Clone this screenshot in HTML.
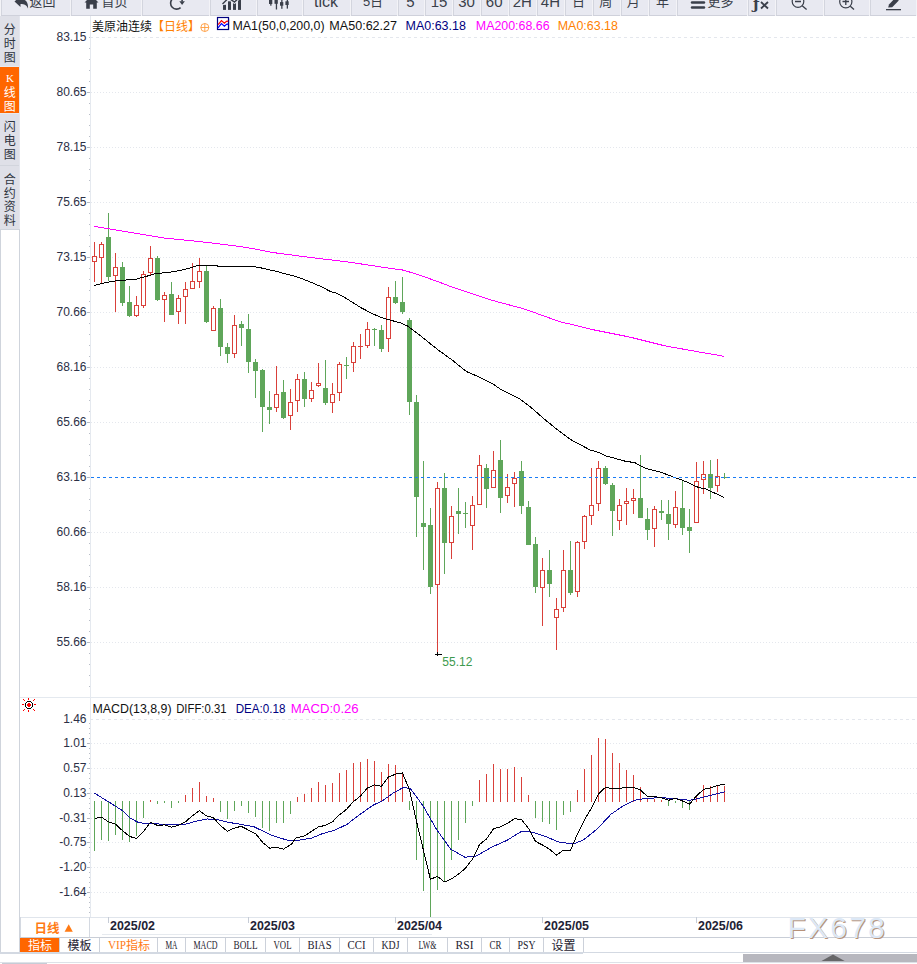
<!DOCTYPE html>
<html><head><meta charset="utf-8"><title>美原油连续 K线图</title>
<style>
html,body{margin:0;padding:0;background:#fff;width:917px;height:964px;overflow:hidden}
svg{position:absolute;left:0;top:0;display:block}
</style></head><body>
<svg width="917" height="964" viewBox="0 0 917 964">
<rect x="0" y="0" width="917" height="16" fill="#f3f3f7" />
<rect x="1" y="0" width="69" height="15" fill="#e8e9f1" />
<rect x="1" y="0" width="1" height="16" fill="#d3d5de" />
<rect x="1" y="15" width="69" height="1" fill="#cfd1db" />
<rect x="71" y="0" width="70" height="15" fill="#e8e9f1" />
<rect x="71" y="0" width="1" height="16" fill="#d3d5de" />
<rect x="71" y="15" width="70" height="1" fill="#cfd1db" />
<rect x="142" y="0" width="67" height="15" fill="#e8e9f1" />
<rect x="142" y="0" width="1" height="16" fill="#d3d5de" />
<rect x="142" y="15" width="67" height="1" fill="#cfd1db" />
<rect x="210" y="0" width="46" height="15" fill="#e8e9f1" />
<rect x="210" y="0" width="1" height="16" fill="#d3d5de" />
<rect x="210" y="15" width="46" height="1" fill="#cfd1db" />
<rect x="257" y="0" width="45" height="15" fill="#e8e9f1" />
<rect x="257" y="0" width="1" height="16" fill="#d3d5de" />
<rect x="257" y="15" width="45" height="1" fill="#cfd1db" />
<rect x="303" y="0" width="47" height="15" fill="#e8e9f1" />
<rect x="303" y="0" width="1" height="16" fill="#d3d5de" />
<rect x="303" y="15" width="47" height="1" fill="#cfd1db" />
<rect x="351" y="0" width="46" height="15" fill="#e8e9f1" />
<rect x="351" y="0" width="1" height="16" fill="#d3d5de" />
<rect x="351" y="15" width="46" height="1" fill="#cfd1db" />
<rect x="398" y="0" width="26" height="15" fill="#e8e9f1" />
<rect x="398" y="0" width="1" height="16" fill="#d3d5de" />
<rect x="398" y="15" width="26" height="1" fill="#cfd1db" />
<rect x="425" y="0" width="27" height="15" fill="#e8e9f1" />
<rect x="425" y="0" width="1" height="16" fill="#d3d5de" />
<rect x="425" y="15" width="27" height="1" fill="#cfd1db" />
<rect x="453" y="0" width="27" height="15" fill="#e8e9f1" />
<rect x="453" y="0" width="1" height="16" fill="#d3d5de" />
<rect x="453" y="15" width="27" height="1" fill="#cfd1db" />
<rect x="481" y="0" width="27" height="15" fill="#e8e9f1" />
<rect x="481" y="0" width="1" height="16" fill="#d3d5de" />
<rect x="481" y="15" width="27" height="1" fill="#cfd1db" />
<rect x="509" y="0" width="27" height="15" fill="#e8e9f1" />
<rect x="509" y="0" width="1" height="16" fill="#d3d5de" />
<rect x="509" y="15" width="27" height="1" fill="#cfd1db" />
<rect x="537" y="0" width="27" height="15" fill="#e8e9f1" />
<rect x="537" y="0" width="1" height="16" fill="#d3d5de" />
<rect x="537" y="15" width="27" height="1" fill="#cfd1db" />
<rect x="565" y="0" width="27" height="15" fill="#e8e9f1" />
<rect x="565" y="0" width="1" height="16" fill="#d3d5de" />
<rect x="565" y="15" width="27" height="1" fill="#cfd1db" />
<rect x="593" y="0" width="27" height="15" fill="#e8e9f1" />
<rect x="593" y="0" width="1" height="16" fill="#d3d5de" />
<rect x="593" y="15" width="27" height="1" fill="#cfd1db" />
<rect x="621" y="0" width="27" height="15" fill="#e8e9f1" />
<rect x="621" y="0" width="1" height="16" fill="#d3d5de" />
<rect x="621" y="15" width="27" height="1" fill="#cfd1db" />
<rect x="649" y="0" width="27" height="15" fill="#e8e9f1" />
<rect x="649" y="0" width="1" height="16" fill="#d3d5de" />
<rect x="649" y="15" width="27" height="1" fill="#cfd1db" />
<rect x="677" y="0" width="70" height="15" fill="#e8e9f1" />
<rect x="677" y="0" width="1" height="16" fill="#d3d5de" />
<rect x="677" y="15" width="70" height="1" fill="#cfd1db" />
<rect x="748" y="0" width="27" height="15" fill="#e8e9f1" />
<rect x="748" y="0" width="1" height="16" fill="#d3d5de" />
<rect x="748" y="15" width="27" height="1" fill="#cfd1db" />
<rect x="776" y="0" width="47" height="15" fill="#e8e9f1" />
<rect x="776" y="0" width="1" height="16" fill="#d3d5de" />
<rect x="776" y="15" width="47" height="1" fill="#cfd1db" />
<rect x="824" y="0" width="45" height="15" fill="#e8e9f1" />
<rect x="824" y="0" width="1" height="16" fill="#d3d5de" />
<rect x="824" y="15" width="45" height="1" fill="#cfd1db" />
<rect x="870" y="0" width="46" height="15" fill="#e8e9f1" />
<rect x="870" y="0" width="1" height="16" fill="#d3d5de" />
<rect x="870" y="15" width="46" height="1" fill="#cfd1db" />
<text x="42.5" y="6" font-size="13" fill="#3a3f4a" font-family="'Liberation Sans', 'Noto Sans CJK SC', 'WenQuanYi Zen Hei', sans-serif" text-anchor="middle" font-weight="normal" >返回</text>
<text x="114.5" y="6" font-size="13" fill="#3a3f4a" font-family="'Liberation Sans', 'Noto Sans CJK SC', 'WenQuanYi Zen Hei', sans-serif" text-anchor="middle" font-weight="normal" >首页</text>
<text x="326" y="7.2" font-size="16" fill="#3a3f4a" font-family="'Liberation Sans', Arial, sans-serif" text-anchor="middle" font-weight="normal" >tick</text>
<text x="373" y="6" font-size="13" fill="#3a3f4a" font-family="'Liberation Sans', 'Noto Sans CJK SC', 'WenQuanYi Zen Hei', sans-serif" text-anchor="middle" font-weight="normal" >5日</text>
<text x="410.5" y="7.0" font-size="15" fill="#3a3f4a" font-family="'Liberation Sans', 'Noto Sans CJK SC', 'WenQuanYi Zen Hei', sans-serif" text-anchor="middle" font-weight="normal" >5</text>
<text x="439" y="7.0" font-size="15" fill="#3a3f4a" font-family="'Liberation Sans', 'Noto Sans CJK SC', 'WenQuanYi Zen Hei', sans-serif" text-anchor="middle" font-weight="normal" >15</text>
<text x="466.5" y="7.0" font-size="15" fill="#3a3f4a" font-family="'Liberation Sans', 'Noto Sans CJK SC', 'WenQuanYi Zen Hei', sans-serif" text-anchor="middle" font-weight="normal" >30</text>
<text x="494.2" y="7.0" font-size="15" fill="#3a3f4a" font-family="'Liberation Sans', 'Noto Sans CJK SC', 'WenQuanYi Zen Hei', sans-serif" text-anchor="middle" font-weight="normal" >60</text>
<text x="522.3" y="7.0" font-size="15" fill="#3a3f4a" font-family="'Liberation Sans', 'Noto Sans CJK SC', 'WenQuanYi Zen Hei', sans-serif" text-anchor="middle" font-weight="normal" >2H</text>
<text x="550.4" y="7.0" font-size="15" fill="#3a3f4a" font-family="'Liberation Sans', 'Noto Sans CJK SC', 'WenQuanYi Zen Hei', sans-serif" text-anchor="middle" font-weight="normal" >4H</text>
<text x="578.5" y="6" font-size="13" fill="#3a3f4a" font-family="'Liberation Sans', 'Noto Sans CJK SC', 'WenQuanYi Zen Hei', sans-serif" text-anchor="middle" font-weight="normal" >日</text>
<text x="605.8" y="6" font-size="13" fill="#3a3f4a" font-family="'Liberation Sans', 'Noto Sans CJK SC', 'WenQuanYi Zen Hei', sans-serif" text-anchor="middle" font-weight="normal" >周</text>
<text x="633.2" y="6" font-size="13" fill="#3a3f4a" font-family="'Liberation Sans', 'Noto Sans CJK SC', 'WenQuanYi Zen Hei', sans-serif" text-anchor="middle" font-weight="normal" >月</text>
<text x="662.5" y="6" font-size="13" fill="#3a3f4a" font-family="'Liberation Sans', 'Noto Sans CJK SC', 'WenQuanYi Zen Hei', sans-serif" text-anchor="middle" font-weight="normal" >年</text>
<text x="720.5" y="6" font-size="13" fill="#3a3f4a" font-family="'Liberation Sans', 'Noto Sans CJK SC', 'WenQuanYi Zen Hei', sans-serif" text-anchor="middle" font-weight="normal" >更多</text>
<path d="M14.5,1.5 L20.5,-4 L20.5,-1 C25.5,-1 28.5,2 28,8.5 C26.5,5 24.5,4 20.5,4 L20.5,7 Z" fill="#3a3f4a"/>
<path d="M84.5,2.5 L91.5,-4.5 L98.5,2.5 L96.8,2.5 L96.8,8.8 L93.2,8.8 L93.2,4.6 L89.8,4.6 L89.8,8.8 L86.2,8.8 L86.2,2.5 Z" fill="#3a3f4a"/>
<path d="M180.8,-1.2 A6,6 0 1 0 180.6,7.6" stroke="#3a3f4a" stroke-width="1.6" fill="none"/>
<path d="M179.3,1.3 L184.9,1.3 L182.1,4.9 Z" fill="#3a3f4a"/>
<rect x="181.3" y="-3" width="1.6" height="4.5" fill="#3a3f4a" />
<rect x="223" y="4.8" width="3" height="5.1000000000000005" fill="#3a3f4a" />
<rect x="228" y="1.3" width="3" height="8.6" fill="#3a3f4a" />
<rect x="233" y="3.2" width="3" height="6.7" fill="#3a3f4a" />
<rect x="238" y="-1" width="3" height="10.9" fill="#3a3f4a" />
<path d="M222.5,4 L228.5,-2 L234.5,2 L241,-4" stroke="#e8e9f1" stroke-width="3.2" fill="none"/>
<path d="M222.5,4 L228.5,-2 L234.5,2 L241,-4" stroke="#3a3f4a" stroke-width="1.4" fill="none"/>
<rect x="270.2" y="-3" width="1.3" height="8.7" fill="#3a3f4a" />
<rect x="269" y="-3" width="3.3" height="7" fill="#3a3f4a" />
<rect x="275.8" y="-3" width="1.3" height="12.5" fill="#3a3f4a" />
<rect x="274.5" y="-3" width="3.3" height="6.8" fill="#3a3f4a" />
<rect x="281.2" y="-1" width="1.3" height="9.8" fill="#3a3f4a" />
<rect x="280" y="2.1" width="3.3" height="3.6" fill="#3a3f4a" />
<rect x="286.7" y="-1" width="1.3" height="9.6" fill="#3a3f4a" />
<rect x="285.4" y="1.3" width="3.3" height="3.7" fill="#3a3f4a" />
<line x1="692" y1="2.5" x2="704" y2="2.5" stroke="#3a3f4a" stroke-width="2.4" stroke-linecap="round"/>
<line x1="692" y1="7.5" x2="704" y2="7.5" stroke="#3a3f4a" stroke-width="2.4" stroke-linecap="round"/>
<text x="753" y="8.5" font-size="15" fill="#3a3f4a" font-family="'DejaVu Serif', serif" text-anchor="start" font-weight="bold" >ƒ</text>
<path d="M761,2 L768,8.5 M768,2 L761,8.5" stroke="#3a3f4a" stroke-width="1.8"/>
<circle cx="798" cy="1.5" r="5.8" stroke="#3a3f4a" stroke-width="1.2" fill="none"/>
<path d="M795,1.5 L801,1.5 M802.2,5.8 L806.6,9.6" stroke="#3a3f4a" stroke-width="1.3"/>
<circle cx="845.8" cy="1.8" r="6.1" stroke="#3a3f4a" stroke-width="1.2" fill="none"/>
<path d="M842.5,1.5 L849,1.5 M845.8,-2 L845.8,5 M850.3,6.2 L854,9.6" stroke="#3a3f4a" stroke-width="1.3"/>
<path d="M888.2,7.4 L889,4.4 L895.6,-2.4 L898.8,0.6 L892.2,7.2 Z" fill="#3a3f4a"/>
<rect x="886" y="9" width="15" height="1.3" fill="#3a3f4a" />
<rect x="0" y="16" width="20" height="214" fill="#dfe0e8" />
<rect x="0" y="67" width="19" height="46" fill="#ff6600" />
<rect x="0" y="66" width="20" height="1" fill="#e8eaf0" />
<rect x="0" y="113" width="20" height="1" fill="#e8eaf0" />
<rect x="0" y="165" width="20" height="1" fill="#d2d5dd" />
<rect x="19" y="16" width="1" height="214" fill="#e4e6ee" />
<rect x="0" y="230" width="1" height="722" fill="#cfd4dc" />
<rect x="19" y="230" width="1" height="722" fill="#cfd4dc" />
<rect x="0" y="229" width="20" height="1" fill="#cfd4dc" />
<text x="9.8" y="33.5" font-size="12" fill="#2e3440" font-family="'Liberation Sans', 'Noto Sans CJK SC', 'WenQuanYi Zen Hei', sans-serif" text-anchor="middle" font-weight="normal" >分</text>
<text x="9.8" y="47.5" font-size="12" fill="#2e3440" font-family="'Liberation Sans', 'Noto Sans CJK SC', 'WenQuanYi Zen Hei', sans-serif" text-anchor="middle" font-weight="normal" >时</text>
<text x="9.8" y="61.5" font-size="12" fill="#2e3440" font-family="'Liberation Sans', 'Noto Sans CJK SC', 'WenQuanYi Zen Hei', sans-serif" text-anchor="middle" font-weight="normal" >图</text>
<text x="10" y="82" font-size="11" fill="#ffffff" font-family="'Liberation Serif', serif" text-anchor="middle" font-weight="normal" >K</text>
<text x="9.8" y="96.5" font-size="12" fill="#ffffff" font-family="'Liberation Sans', 'Noto Sans CJK SC', 'WenQuanYi Zen Hei', sans-serif" text-anchor="middle" font-weight="normal" >线</text>
<text x="9.8" y="110.5" font-size="12" fill="#ffffff" font-family="'Liberation Sans', 'Noto Sans CJK SC', 'WenQuanYi Zen Hei', sans-serif" text-anchor="middle" font-weight="normal" >图</text>
<text x="9.8" y="131" font-size="12" fill="#2e3440" font-family="'Liberation Sans', 'Noto Sans CJK SC', 'WenQuanYi Zen Hei', sans-serif" text-anchor="middle" font-weight="normal" >闪</text>
<text x="9.8" y="145" font-size="12" fill="#2e3440" font-family="'Liberation Sans', 'Noto Sans CJK SC', 'WenQuanYi Zen Hei', sans-serif" text-anchor="middle" font-weight="normal" >电</text>
<text x="9.8" y="159" font-size="12" fill="#2e3440" font-family="'Liberation Sans', 'Noto Sans CJK SC', 'WenQuanYi Zen Hei', sans-serif" text-anchor="middle" font-weight="normal" >图</text>
<text x="9.8" y="184.0" font-size="12" fill="#2e3440" font-family="'Liberation Sans', 'Noto Sans CJK SC', 'WenQuanYi Zen Hei', sans-serif" text-anchor="middle" font-weight="normal" >合</text>
<text x="9.8" y="197.5" font-size="12" fill="#2e3440" font-family="'Liberation Sans', 'Noto Sans CJK SC', 'WenQuanYi Zen Hei', sans-serif" text-anchor="middle" font-weight="normal" >约</text>
<text x="9.8" y="211.0" font-size="12" fill="#2e3440" font-family="'Liberation Sans', 'Noto Sans CJK SC', 'WenQuanYi Zen Hei', sans-serif" text-anchor="middle" font-weight="normal" >资</text>
<text x="9.8" y="224.5" font-size="12" fill="#2e3440" font-family="'Liberation Sans', 'Noto Sans CJK SC', 'WenQuanYi Zen Hei', sans-serif" text-anchor="middle" font-weight="normal" >料</text>
<rect x="90" y="16" width="1" height="902" fill="#e5e9ef" />
<rect x="20" y="697" width="897" height="1" fill="#e4e9ef" />
<line x1="90" y1="37.5" x2="917" y2="37.5" stroke="#e4e7ed" stroke-width="1" stroke-dasharray="3 3" shape-rendering="crispEdges"/>
<text x="86.5" y="40.5" font-size="12" fill="#2b2f45" font-family="'Liberation Sans', Arial, sans-serif" text-anchor="end" font-weight="normal" >83.15</text>
<line x1="91" y1="92.5" x2="917" y2="92.5" stroke="#e4e7ed" stroke-width="1" stroke-dasharray="1 2" shape-rendering="crispEdges"/>
<rect x="87" y="92" width="3" height="1" fill="#b4b8c0" />
<text x="86.5" y="95.5" font-size="12" fill="#2b2f45" font-family="'Liberation Sans', Arial, sans-serif" text-anchor="end" font-weight="normal" >80.65</text>
<line x1="91" y1="147.5" x2="917" y2="147.5" stroke="#e4e7ed" stroke-width="1" stroke-dasharray="1 2" shape-rendering="crispEdges"/>
<rect x="87" y="147" width="3" height="1" fill="#b4b8c0" />
<text x="86.5" y="150.5" font-size="12" fill="#2b2f45" font-family="'Liberation Sans', Arial, sans-serif" text-anchor="end" font-weight="normal" >78.15</text>
<line x1="91" y1="202.5" x2="917" y2="202.5" stroke="#e4e7ed" stroke-width="1" stroke-dasharray="1 2" shape-rendering="crispEdges"/>
<rect x="87" y="202" width="3" height="1" fill="#b4b8c0" />
<text x="86.5" y="205.5" font-size="12" fill="#2b2f45" font-family="'Liberation Sans', Arial, sans-serif" text-anchor="end" font-weight="normal" >75.65</text>
<line x1="91" y1="257.5" x2="917" y2="257.5" stroke="#e4e7ed" stroke-width="1" stroke-dasharray="1 2" shape-rendering="crispEdges"/>
<rect x="87" y="257" width="3" height="1" fill="#b4b8c0" />
<text x="86.5" y="260.5" font-size="12" fill="#2b2f45" font-family="'Liberation Sans', Arial, sans-serif" text-anchor="end" font-weight="normal" >73.15</text>
<line x1="91" y1="312.5" x2="917" y2="312.5" stroke="#e4e7ed" stroke-width="1" stroke-dasharray="1 2" shape-rendering="crispEdges"/>
<rect x="87" y="312" width="3" height="1" fill="#b4b8c0" />
<text x="86.5" y="315.5" font-size="12" fill="#2b2f45" font-family="'Liberation Sans', Arial, sans-serif" text-anchor="end" font-weight="normal" >70.66</text>
<line x1="91" y1="367.5" x2="917" y2="367.5" stroke="#e4e7ed" stroke-width="1" stroke-dasharray="1 2" shape-rendering="crispEdges"/>
<rect x="87" y="367" width="3" height="1" fill="#b4b8c0" />
<text x="86.5" y="370.5" font-size="12" fill="#2b2f45" font-family="'Liberation Sans', Arial, sans-serif" text-anchor="end" font-weight="normal" >68.16</text>
<line x1="91" y1="422.5" x2="917" y2="422.5" stroke="#e4e7ed" stroke-width="1" stroke-dasharray="1 2" shape-rendering="crispEdges"/>
<rect x="87" y="422" width="3" height="1" fill="#b4b8c0" />
<text x="86.5" y="425.5" font-size="12" fill="#2b2f45" font-family="'Liberation Sans', Arial, sans-serif" text-anchor="end" font-weight="normal" >65.66</text>
<rect x="87" y="477" width="3" height="1" fill="#b4b8c0" />
<text x="86.5" y="480.5" font-size="12" fill="#2b2f45" font-family="'Liberation Sans', Arial, sans-serif" text-anchor="end" font-weight="normal" >63.16</text>
<line x1="91" y1="532.5" x2="917" y2="532.5" stroke="#e4e7ed" stroke-width="1" stroke-dasharray="1 2" shape-rendering="crispEdges"/>
<rect x="87" y="532" width="3" height="1" fill="#b4b8c0" />
<text x="86.5" y="535.5" font-size="12" fill="#2b2f45" font-family="'Liberation Sans', Arial, sans-serif" text-anchor="end" font-weight="normal" >60.66</text>
<line x1="91" y1="587.5" x2="917" y2="587.5" stroke="#e4e7ed" stroke-width="1" stroke-dasharray="1 2" shape-rendering="crispEdges"/>
<rect x="87" y="587" width="3" height="1" fill="#b4b8c0" />
<text x="86.5" y="590.5" font-size="12" fill="#2b2f45" font-family="'Liberation Sans', Arial, sans-serif" text-anchor="end" font-weight="normal" >58.16</text>
<line x1="91" y1="642.5" x2="917" y2="642.5" stroke="#e4e7ed" stroke-width="1" stroke-dasharray="1 2" shape-rendering="crispEdges"/>
<rect x="87" y="642" width="3" height="1" fill="#b4b8c0" />
<text x="86.5" y="645.5" font-size="12" fill="#2b2f45" font-family="'Liberation Sans', Arial, sans-serif" text-anchor="end" font-weight="normal" >55.66</text>
<rect x="89" y="37" width="1" height="1" fill="#b9bec8" />
<rect x="89" y="48" width="1" height="1" fill="#b9bec8" />
<rect x="89" y="59" width="1" height="1" fill="#b9bec8" />
<rect x="89" y="70" width="1" height="1" fill="#b9bec8" />
<rect x="89" y="81" width="1" height="1" fill="#b9bec8" />
<rect x="89" y="92" width="1" height="1" fill="#b9bec8" />
<rect x="89" y="103" width="1" height="1" fill="#b9bec8" />
<rect x="89" y="114" width="1" height="1" fill="#b9bec8" />
<rect x="89" y="125" width="1" height="1" fill="#b9bec8" />
<rect x="89" y="136" width="1" height="1" fill="#b9bec8" />
<rect x="89" y="147" width="1" height="1" fill="#b9bec8" />
<rect x="89" y="158" width="1" height="1" fill="#b9bec8" />
<rect x="89" y="169" width="1" height="1" fill="#b9bec8" />
<rect x="89" y="180" width="1" height="1" fill="#b9bec8" />
<rect x="89" y="191" width="1" height="1" fill="#b9bec8" />
<rect x="89" y="202" width="1" height="1" fill="#b9bec8" />
<rect x="89" y="213" width="1" height="1" fill="#b9bec8" />
<rect x="89" y="224" width="1" height="1" fill="#b9bec8" />
<rect x="89" y="235" width="1" height="1" fill="#b9bec8" />
<rect x="89" y="246" width="1" height="1" fill="#b9bec8" />
<rect x="89" y="257" width="1" height="1" fill="#b9bec8" />
<rect x="89" y="268" width="1" height="1" fill="#b9bec8" />
<rect x="89" y="279" width="1" height="1" fill="#b9bec8" />
<rect x="89" y="290" width="1" height="1" fill="#b9bec8" />
<rect x="89" y="301" width="1" height="1" fill="#b9bec8" />
<rect x="89" y="312" width="1" height="1" fill="#b9bec8" />
<rect x="89" y="323" width="1" height="1" fill="#b9bec8" />
<rect x="89" y="334" width="1" height="1" fill="#b9bec8" />
<rect x="89" y="345" width="1" height="1" fill="#b9bec8" />
<rect x="89" y="356" width="1" height="1" fill="#b9bec8" />
<rect x="89" y="367" width="1" height="1" fill="#b9bec8" />
<rect x="89" y="378" width="1" height="1" fill="#b9bec8" />
<rect x="89" y="389" width="1" height="1" fill="#b9bec8" />
<rect x="89" y="400" width="1" height="1" fill="#b9bec8" />
<rect x="89" y="411" width="1" height="1" fill="#b9bec8" />
<rect x="89" y="422" width="1" height="1" fill="#b9bec8" />
<rect x="89" y="433" width="1" height="1" fill="#b9bec8" />
<rect x="89" y="444" width="1" height="1" fill="#b9bec8" />
<rect x="89" y="455" width="1" height="1" fill="#b9bec8" />
<rect x="89" y="466" width="1" height="1" fill="#b9bec8" />
<rect x="89" y="477" width="1" height="1" fill="#b9bec8" />
<rect x="89" y="488" width="1" height="1" fill="#b9bec8" />
<rect x="89" y="499" width="1" height="1" fill="#b9bec8" />
<rect x="89" y="510" width="1" height="1" fill="#b9bec8" />
<rect x="89" y="521" width="1" height="1" fill="#b9bec8" />
<rect x="89" y="532" width="1" height="1" fill="#b9bec8" />
<rect x="89" y="543" width="1" height="1" fill="#b9bec8" />
<rect x="89" y="554" width="1" height="1" fill="#b9bec8" />
<rect x="89" y="565" width="1" height="1" fill="#b9bec8" />
<rect x="89" y="576" width="1" height="1" fill="#b9bec8" />
<rect x="89" y="587" width="1" height="1" fill="#b9bec8" />
<rect x="89" y="598" width="1" height="1" fill="#b9bec8" />
<rect x="89" y="609" width="1" height="1" fill="#b9bec8" />
<rect x="89" y="620" width="1" height="1" fill="#b9bec8" />
<rect x="89" y="631" width="1" height="1" fill="#b9bec8" />
<rect x="89" y="642" width="1" height="1" fill="#b9bec8" />
<rect x="89" y="653" width="1" height="1" fill="#b9bec8" />
<rect x="89" y="664" width="1" height="1" fill="#b9bec8" />
<rect x="89" y="675" width="1" height="1" fill="#b9bec8" />
<rect x="89" y="686" width="1" height="1" fill="#b9bec8" />
<text x="92" y="30.5" font-size="12" fill="#111111" font-family="'Liberation Sans', 'Noto Sans CJK SC', 'WenQuanYi Zen Hei', sans-serif" text-anchor="start" font-weight="normal" >美原油连续</text>
<text x="152" y="30.5" font-size="12" fill="#ff8000" font-family="'Liberation Sans', 'Noto Sans CJK SC', 'WenQuanYi Zen Hei', sans-serif" text-anchor="start" font-weight="normal" >【日线】</text>
<circle cx="204.8" cy="27.5" r="4" stroke="#ff9a3a" stroke-width="0.9" fill="none"/>
<path d="M200.8,27.5 L208.8,27.5 M204.8,23.5 L204.8,31.5" stroke="#ff9a3a" stroke-width="0.9"/>
<rect x="218.5" y="18.5" width="11" height="11" fill="#808080" opacity="0.5"/>
<rect x="217.5" y="17.5" width="11" height="12" fill="#ffffff" stroke="#000080" stroke-width="1.2"/>
<polyline points="218.2,24.6 221.4,20.6 224.4,23.3 226.5,21.4 228.2,21.2" stroke="#ff0000" stroke-width="1.2" fill="none"/>
<polyline points="218,27.9 221.4,23.6 224.4,26.3 226.5,24.4 228.2,24.1" stroke="#0000ff" stroke-width="1.2" fill="none"/>
<text x="232.5" y="30" font-size="12.5" fill="#111111" font-family="'Liberation Sans', Arial, sans-serif" text-anchor="start" font-weight="normal" textLength="92" lengthAdjust="spacingAndGlyphs">MA1(50,0,200,0)</text>
<text x="329.3" y="30" font-size="12.5" fill="#111111" font-family="'Liberation Sans', Arial, sans-serif" text-anchor="start" font-weight="normal" textLength="67.8" lengthAdjust="spacingAndGlyphs">MA50:62.27</text>
<text x="405.6" y="30" font-size="12.5" fill="#000080" font-family="'Liberation Sans', Arial, sans-serif" text-anchor="start" font-weight="normal" textLength="60.3" lengthAdjust="spacingAndGlyphs">MA0:63.18</text>
<text x="475.8" y="30" font-size="12.5" fill="#ff00ff" font-family="'Liberation Sans', Arial, sans-serif" text-anchor="start" font-weight="normal" textLength="73.8" lengthAdjust="spacingAndGlyphs">MA200:68.66</text>
<text x="557.7" y="30" font-size="12.5" fill="#ff8000" font-family="'Liberation Sans', Arial, sans-serif" text-anchor="start" font-weight="normal" textLength="60.3" lengthAdjust="spacingAndGlyphs">MA0:63.18</text>
<g shape-rendering="crispEdges">
<rect x="94" y="242" width="1" height="40" fill="#d9403a" />
<rect x="92.5" y="256.5" width="4" height="5" fill="#fff" stroke="#d9403a" stroke-width="1"/>
<rect x="101" y="242" width="1" height="42" fill="#d9403a" />
<rect x="99.5" y="244.5" width="4" height="13" fill="#fff" stroke="#d9403a" stroke-width="1"/>
<rect x="108" y="213" width="1" height="68" fill="#5fa65a" />
<rect x="106" y="237" width="5" height="40" fill="#5fa65a" />
<rect x="115" y="253" width="1" height="59" fill="#d9403a" />
<rect x="113.5" y="267.5" width="4" height="8" fill="#fff" stroke="#d9403a" stroke-width="1"/>
<rect x="122" y="262" width="1" height="44" fill="#5fa65a" />
<rect x="120" y="267" width="5" height="36" fill="#5fa65a" />
<rect x="129" y="286" width="1" height="31" fill="#5fa65a" />
<rect x="127" y="302" width="5" height="14" fill="#5fa65a" />
<rect x="136" y="296" width="1" height="21" fill="#d9403a" />
<rect x="134.5" y="305.5" width="4" height="10" fill="#fff" stroke="#d9403a" stroke-width="1"/>
<rect x="143" y="271" width="1" height="37" fill="#d9403a" />
<rect x="141.5" y="274.5" width="4" height="31" fill="#fff" stroke="#d9403a" stroke-width="1"/>
<rect x="150" y="246" width="1" height="29" fill="#d9403a" />
<rect x="148.5" y="258.5" width="4" height="14" fill="#fff" stroke="#d9403a" stroke-width="1"/>
<rect x="157" y="256" width="1" height="45" fill="#5fa65a" />
<rect x="155" y="258" width="5" height="42" fill="#5fa65a" />
<rect x="164" y="292" width="1" height="30" fill="#d9403a" />
<rect x="162.5" y="295.5" width="4" height="4" fill="#fff" stroke="#d9403a" stroke-width="1"/>
<rect x="171" y="282" width="1" height="33" fill="#5fa65a" />
<rect x="169" y="294" width="5" height="21" fill="#5fa65a" />
<rect x="178" y="295" width="1" height="29" fill="#d9403a" />
<rect x="176.5" y="298.5" width="4" height="13" fill="#fff" stroke="#d9403a" stroke-width="1"/>
<rect x="185" y="282" width="1" height="42" fill="#d9403a" />
<rect x="183.5" y="289.5" width="4" height="7" fill="#fff" stroke="#d9403a" stroke-width="1"/>
<rect x="192" y="263" width="1" height="26" fill="#d9403a" />
<rect x="190.5" y="281.5" width="4" height="7" fill="#fff" stroke="#d9403a" stroke-width="1"/>
<rect x="199" y="258" width="1" height="30" fill="#d9403a" />
<rect x="197.5" y="271.5" width="4" height="10" fill="#fff" stroke="#d9403a" stroke-width="1"/>
<rect x="206" y="266" width="1" height="57" fill="#5fa65a" />
<rect x="204" y="271" width="5" height="51" fill="#5fa65a" />
<rect x="213" y="306" width="1" height="25" fill="#d9403a" />
<rect x="211.5" y="308.5" width="4" height="22" fill="#fff" stroke="#d9403a" stroke-width="1"/>
<rect x="220" y="299" width="1" height="57" fill="#5fa65a" />
<rect x="218" y="308" width="5" height="39" fill="#5fa65a" />
<rect x="227" y="343" width="1" height="20" fill="#5fa65a" />
<rect x="225" y="347" width="5" height="7" fill="#5fa65a" />
<rect x="234" y="315" width="1" height="43" fill="#d9403a" />
<rect x="232.5" y="325.5" width="4" height="28" fill="#fff" stroke="#d9403a" stroke-width="1"/>
<rect x="241" y="321" width="1" height="25" fill="#5fa65a" />
<rect x="239" y="324" width="5" height="4" fill="#5fa65a" />
<rect x="248" y="314" width="1" height="59" fill="#5fa65a" />
<rect x="246" y="329" width="5" height="33" fill="#5fa65a" />
<rect x="255" y="359" width="1" height="39" fill="#5fa65a" />
<rect x="253" y="362" width="5" height="9" fill="#5fa65a" />
<rect x="262" y="369" width="1" height="63" fill="#5fa65a" />
<rect x="260" y="370" width="5" height="37" fill="#5fa65a" />
<rect x="269" y="391" width="1" height="33" fill="#5fa65a" />
<rect x="267" y="407" width="5" height="3" fill="#5fa65a" />
<rect x="276" y="366" width="1" height="46" fill="#d9403a" />
<rect x="274.5" y="394.5" width="4" height="13" fill="#fff" stroke="#d9403a" stroke-width="1"/>
<rect x="283" y="380" width="1" height="39" fill="#5fa65a" />
<rect x="281" y="392" width="5" height="26" fill="#5fa65a" />
<rect x="290" y="389" width="1" height="41" fill="#d9403a" />
<rect x="288.5" y="402.5" width="4" height="13" fill="#fff" stroke="#d9403a" stroke-width="1"/>
<rect x="297" y="374" width="1" height="38" fill="#d9403a" />
<rect x="295.5" y="379.5" width="4" height="21" fill="#fff" stroke="#d9403a" stroke-width="1"/>
<rect x="304" y="372" width="1" height="35" fill="#5fa65a" />
<rect x="302" y="379" width="5" height="20" fill="#5fa65a" />
<rect x="311" y="382" width="1" height="20" fill="#d9403a" />
<rect x="309.5" y="390.5" width="4" height="8" fill="#fff" stroke="#d9403a" stroke-width="1"/>
<rect x="318" y="363" width="1" height="24" fill="#d9403a" />
<rect x="316.5" y="383.5" width="4" height="2" fill="#fff" stroke="#d9403a" stroke-width="1"/>
<rect x="325" y="360" width="1" height="45" fill="#5fa65a" />
<rect x="323" y="388" width="5" height="15" fill="#5fa65a" />
<rect x="332" y="383" width="1" height="30" fill="#d9403a" />
<rect x="330.5" y="394.5" width="4" height="8" fill="#fff" stroke="#d9403a" stroke-width="1"/>
<rect x="339" y="362" width="1" height="39" fill="#d9403a" />
<rect x="337.5" y="364.5" width="4" height="28" fill="#fff" stroke="#d9403a" stroke-width="1"/>
<rect x="346" y="357" width="1" height="22" fill="#5fa65a" />
<rect x="344" y="365" width="5" height="1" fill="#5fa65a" />
<rect x="353" y="342" width="1" height="30" fill="#d9403a" />
<rect x="351.5" y="346.5" width="4" height="16" fill="#fff" stroke="#d9403a" stroke-width="1"/>
<rect x="360" y="334" width="1" height="25" fill="#d9403a" />
<rect x="358" y="346" width="5" height="1" fill="#d9403a" />
<rect x="367" y="322" width="1" height="26" fill="#d9403a" />
<rect x="365.5" y="329.5" width="4" height="16" fill="#fff" stroke="#d9403a" stroke-width="1"/>
<rect x="374" y="328" width="1" height="18" fill="#5fa65a" />
<rect x="372" y="329" width="5" height="1" fill="#5fa65a" />
<rect x="381" y="325" width="1" height="27" fill="#5fa65a" />
<rect x="379" y="330" width="5" height="19" fill="#5fa65a" />
<rect x="388" y="287" width="1" height="65" fill="#d9403a" />
<rect x="386.5" y="297.5" width="4" height="41" fill="#fff" stroke="#d9403a" stroke-width="1"/>
<rect x="395" y="281" width="1" height="23" fill="#5fa65a" />
<rect x="393" y="297" width="5" height="6" fill="#5fa65a" />
<rect x="402" y="277" width="1" height="37" fill="#5fa65a" />
<rect x="400" y="302" width="5" height="10" fill="#5fa65a" />
<rect x="409" y="318" width="1" height="97" fill="#5fa65a" />
<rect x="407" y="320" width="5" height="82" fill="#5fa65a" />
<rect x="416" y="395" width="1" height="142" fill="#5fa65a" />
<rect x="414" y="402" width="5" height="95" fill="#5fa65a" />
<rect x="423" y="461" width="1" height="109" fill="#5fa65a" />
<rect x="421" y="523" width="5" height="4" fill="#5fa65a" />
<rect x="430" y="508" width="1" height="86" fill="#5fa65a" />
<rect x="428" y="525" width="5" height="62" fill="#5fa65a" />
<rect x="437" y="482" width="1" height="172" fill="#d9403a" />
<rect x="435.5" y="488.5" width="4" height="96" fill="#fff" stroke="#d9403a" stroke-width="1"/>
<rect x="444" y="473" width="1" height="101" fill="#5fa65a" />
<rect x="442" y="488" width="5" height="55" fill="#5fa65a" />
<rect x="451" y="506" width="1" height="53" fill="#d9403a" />
<rect x="449.5" y="516.5" width="4" height="26" fill="#fff" stroke="#d9403a" stroke-width="1"/>
<rect x="458" y="488" width="1" height="46" fill="#5fa65a" />
<rect x="456" y="511" width="5" height="3" fill="#5fa65a" />
<rect x="465" y="502" width="1" height="26" fill="#5fa65a" />
<rect x="463" y="513" width="5" height="1" fill="#5fa65a" />
<rect x="472" y="496" width="1" height="54" fill="#d9403a" />
<rect x="470.5" y="505.5" width="4" height="20" fill="#fff" stroke="#d9403a" stroke-width="1"/>
<rect x="479" y="455" width="1" height="50" fill="#d9403a" />
<rect x="477.5" y="465.5" width="4" height="39" fill="#fff" stroke="#d9403a" stroke-width="1"/>
<rect x="486" y="464" width="1" height="44" fill="#5fa65a" />
<rect x="484" y="468" width="5" height="21" fill="#5fa65a" />
<rect x="493" y="451" width="1" height="37" fill="#d9403a" />
<rect x="491.5" y="470.5" width="4" height="17" fill="#fff" stroke="#d9403a" stroke-width="1"/>
<rect x="500" y="440" width="1" height="73" fill="#5fa65a" />
<rect x="498" y="460" width="5" height="38" fill="#5fa65a" />
<rect x="507" y="474" width="1" height="29" fill="#d9403a" />
<rect x="505.5" y="487.5" width="4" height="8" fill="#fff" stroke="#d9403a" stroke-width="1"/>
<rect x="514" y="472" width="1" height="35" fill="#d9403a" />
<rect x="512.5" y="478.5" width="4" height="5" fill="#fff" stroke="#d9403a" stroke-width="1"/>
<rect x="521" y="461" width="1" height="53" fill="#5fa65a" />
<rect x="519" y="471" width="5" height="35" fill="#5fa65a" />
<rect x="528" y="501" width="1" height="44" fill="#5fa65a" />
<rect x="526" y="507" width="5" height="38" fill="#5fa65a" />
<rect x="535" y="537" width="1" height="56" fill="#5fa65a" />
<rect x="533" y="544" width="5" height="43" fill="#5fa65a" />
<rect x="542" y="558" width="1" height="68" fill="#d9403a" />
<rect x="540.5" y="570.5" width="4" height="17" fill="#fff" stroke="#d9403a" stroke-width="1"/>
<rect x="549" y="550" width="1" height="47" fill="#5fa65a" />
<rect x="547" y="570" width="5" height="14" fill="#5fa65a" />
<rect x="556" y="598" width="1" height="52" fill="#d9403a" />
<rect x="554.5" y="609.5" width="4" height="8" fill="#fff" stroke="#d9403a" stroke-width="1"/>
<rect x="563" y="550" width="1" height="62" fill="#d9403a" />
<rect x="561.5" y="570.5" width="4" height="37" fill="#fff" stroke="#d9403a" stroke-width="1"/>
<rect x="570" y="541" width="1" height="54" fill="#5fa65a" />
<rect x="568" y="570" width="5" height="23" fill="#5fa65a" />
<rect x="577" y="541" width="1" height="56" fill="#d9403a" />
<rect x="575.5" y="542.5" width="4" height="49" fill="#fff" stroke="#d9403a" stroke-width="1"/>
<rect x="584" y="515" width="1" height="34" fill="#d9403a" />
<rect x="582.5" y="516.5" width="4" height="25" fill="#fff" stroke="#d9403a" stroke-width="1"/>
<rect x="591" y="468" width="1" height="57" fill="#d9403a" />
<rect x="589.5" y="505.5" width="4" height="10" fill="#fff" stroke="#d9403a" stroke-width="1"/>
<rect x="598" y="461" width="1" height="50" fill="#d9403a" />
<rect x="596.5" y="468.5" width="4" height="35" fill="#fff" stroke="#d9403a" stroke-width="1"/>
<rect x="605" y="466" width="1" height="19" fill="#5fa65a" />
<rect x="603" y="468" width="5" height="16" fill="#5fa65a" />
<rect x="612" y="483" width="1" height="53" fill="#5fa65a" />
<rect x="610" y="485" width="5" height="26" fill="#5fa65a" />
<rect x="619" y="499" width="1" height="31" fill="#d9403a" />
<rect x="617.5" y="505.5" width="4" height="15" fill="#fff" stroke="#d9403a" stroke-width="1"/>
<rect x="626" y="488" width="1" height="37" fill="#d9403a" />
<rect x="624.5" y="501.5" width="4" height="2" fill="#fff" stroke="#d9403a" stroke-width="1"/>
<rect x="633" y="489" width="1" height="25" fill="#d9403a" />
<rect x="631.5" y="498.5" width="4" height="2" fill="#fff" stroke="#d9403a" stroke-width="1"/>
<rect x="640" y="455" width="1" height="63" fill="#5fa65a" />
<rect x="638" y="498" width="5" height="20" fill="#5fa65a" />
<rect x="647" y="508" width="1" height="32" fill="#5fa65a" />
<rect x="645" y="519" width="5" height="11" fill="#5fa65a" />
<rect x="654" y="506" width="1" height="41" fill="#d9403a" />
<rect x="652.5" y="509.5" width="4" height="19" fill="#fff" stroke="#d9403a" stroke-width="1"/>
<rect x="661" y="500" width="1" height="20" fill="#5fa65a" />
<rect x="659" y="511" width="5" height="2" fill="#5fa65a" />
<rect x="668" y="500" width="1" height="40" fill="#5fa65a" />
<rect x="666" y="514" width="5" height="10" fill="#5fa65a" />
<rect x="675" y="491" width="1" height="37" fill="#d9403a" />
<rect x="673.5" y="507.5" width="4" height="17" fill="#fff" stroke="#d9403a" stroke-width="1"/>
<rect x="682" y="480" width="1" height="55" fill="#5fa65a" />
<rect x="680" y="508" width="5" height="20" fill="#5fa65a" />
<rect x="689" y="509" width="1" height="44" fill="#5fa65a" />
<rect x="687" y="527" width="5" height="4" fill="#5fa65a" />
<rect x="696" y="462" width="1" height="61" fill="#d9403a" />
<rect x="694.5" y="481.5" width="4" height="41" fill="#fff" stroke="#d9403a" stroke-width="1"/>
<rect x="703" y="461" width="1" height="33" fill="#d9403a" />
<rect x="701.5" y="474.5" width="4" height="5" fill="#fff" stroke="#d9403a" stroke-width="1"/>
<rect x="710" y="460" width="1" height="39" fill="#5fa65a" />
<rect x="708" y="474" width="5" height="14" fill="#5fa65a" />
<rect x="717" y="459" width="1" height="33" fill="#d9403a" />
<rect x="715.5" y="476.5" width="4" height="9" fill="#fff" stroke="#d9403a" stroke-width="1"/>
<rect x="724" y="473" width="1" height="6" fill="#5fa65a" />
<rect x="722" y="477" width="5" height="1" fill="#5fa65a" />
</g>
<polyline points="94.0,226.3 125.1,231.5 162.2,237.8 199.2,241.5 236.3,246.0 254.9,248.9 273.4,252.6 310.5,257.5 347.5,261.9 384.6,267.5 403.2,270.1 420.0,275.2 442.0,283.2 454.9,288.1 489.8,299.7 524.7,309.1 559.6,321.6 594.5,330.0 629.4,337.0 664.2,345.7 699.1,352.0 723.6,356.2" stroke="#ff00ff" stroke-width="1" fill="none" shape-rendering="crispEdges"/>
<polyline points="94.0,285.5 105.7,282.5 120.1,280.1 133.2,279.9 142.4,277.5 156.8,273.3 167.2,272.7 181.6,270.1 192.1,267.4 198.6,265.2 216.8,265.2 217.6,266.1 251.9,266.4 261.0,267.9 276.3,271.4 297.7,277.1 306.9,280.6 322.1,287.0 330.0,291.3 337.2,293.5 345.7,298.1 361.4,307.9 373.2,314.1 383.7,318.4 390.2,320.1 400.7,323.0 407.2,325.8 421.6,336.7 432.1,345.2 440.0,351.3 452.2,360.1 466.2,371.4 480.1,377.5 492.4,383.6 501.1,389.7 520.3,399.3 530.7,407.2 544.7,419.4 558.7,430.8 572.6,440.9 585.0,447.2 590.1,450.0 598.7,452.4 604.9,455.6 626.0,461.4 634.8,462.6 639.7,465.5 647.2,468.9 661.2,472.3 672.4,476.7 682.3,480.1 687.3,482.3 694.8,486.0 699.8,487.9 704.7,488.5 709.7,491.0 717.2,494.1 723.7,497.5" stroke="#000000" stroke-width="1" fill="none" shape-rendering="crispEdges"/>
<line x1="91" y1="477.5" x2="917" y2="477.5" stroke="#1a7cf5" stroke-width="1" stroke-dasharray="3 3" shape-rendering="crispEdges"/>
<rect x="437" y="652" width="1" height="4" fill="#000" />
<rect x="435" y="654" width="7" height="1" fill="#000" />
<text x="442.3" y="666" font-size="12" fill="#3d9a4e" font-family="'Liberation Sans', Arial, sans-serif" text-anchor="start" font-weight="normal" >55.12</text>
<rect x="27" y="701" width="4" height="1" fill="#000" />
<rect x="27" y="708" width="4" height="1" fill="#000" />
<rect x="25" y="703" width="1" height="4" fill="#000" />
<rect x="32" y="703" width="1" height="4" fill="#000" />
<rect x="26" y="702" width="1" height="1" fill="#000" />
<rect x="31" y="702" width="1" height="1" fill="#000" />
<rect x="26" y="707" width="1" height="1" fill="#000" />
<rect x="31" y="707" width="1" height="1" fill="#000" />
<rect x="28" y="703" width="2" height="4" fill="#ff0000" />
<rect x="27" y="704" width="4" height="2" fill="#ff0000" />
<rect x="28" y="698" width="1" height="2" fill="#ff0000" />
<rect x="28" y="710" width="1" height="2" fill="#ff0000" />
<rect x="22" y="704" width="2" height="1" fill="#ff0000" />
<rect x="34" y="704" width="2" height="1" fill="#ff0000" />
<rect x="23" y="699" width="1" height="1" fill="#ff0000" />
<rect x="24" y="700" width="1" height="1" fill="#ff0000" />
<rect x="34" y="699" width="1" height="1" fill="#ff0000" />
<rect x="33" y="700" width="1" height="1" fill="#ff0000" />
<rect x="24" y="709" width="1" height="1" fill="#ff0000" />
<rect x="23" y="710" width="1" height="1" fill="#ff0000" />
<rect x="33" y="709" width="1" height="1" fill="#ff0000" />
<rect x="34" y="710" width="1" height="1" fill="#ff0000" />
<text x="92.4" y="713" font-size="12.5" fill="#111111" font-family="'Liberation Sans', Arial, sans-serif" text-anchor="start" font-weight="normal" textLength="79.2" lengthAdjust="spacingAndGlyphs">MACD(13,8,9)</text>
<text x="176.2" y="713" font-size="12.5" fill="#111111" font-family="'Liberation Sans', Arial, sans-serif" text-anchor="start" font-weight="normal" textLength="50.3" lengthAdjust="spacingAndGlyphs">DIFF:0.31</text>
<text x="235.7" y="713" font-size="12.5" fill="#000080" font-family="'Liberation Sans', Arial, sans-serif" text-anchor="start" font-weight="normal" textLength="49.8" lengthAdjust="spacingAndGlyphs">DEA:0.18</text>
<text x="290.7" y="713" font-size="12.5" fill="#ff00ff" font-family="'Liberation Sans', Arial, sans-serif" text-anchor="start" font-weight="normal" textLength="68" lengthAdjust="spacingAndGlyphs">MACD:0.26</text>
<line x1="90" y1="719.5" x2="917" y2="719.5" stroke="#e4e7ed" stroke-width="1" stroke-dasharray="3 3" shape-rendering="crispEdges"/>
<text x="86.5" y="722.5" font-size="12" fill="#2b2f45" font-family="'Liberation Sans', Arial, sans-serif" text-anchor="end" font-weight="normal" >1.46</text>
<line x1="91" y1="743.5" x2="917" y2="743.5" stroke="#e4e7ed" stroke-width="1" stroke-dasharray="1 2" shape-rendering="crispEdges"/>
<rect x="87" y="743" width="3" height="1" fill="#b4b8c0" />
<text x="86.5" y="746.5" font-size="12" fill="#2b2f45" font-family="'Liberation Sans', Arial, sans-serif" text-anchor="end" font-weight="normal" >1.01</text>
<line x1="91" y1="768.5" x2="917" y2="768.5" stroke="#e4e7ed" stroke-width="1" stroke-dasharray="1 2" shape-rendering="crispEdges"/>
<rect x="87" y="768" width="3" height="1" fill="#b4b8c0" />
<text x="86.5" y="771.5" font-size="12" fill="#2b2f45" font-family="'Liberation Sans', Arial, sans-serif" text-anchor="end" font-weight="normal" >0.57</text>
<line x1="91" y1="793.5" x2="917" y2="793.5" stroke="#e4e7ed" stroke-width="1" stroke-dasharray="1 2" shape-rendering="crispEdges"/>
<rect x="87" y="793" width="3" height="1" fill="#b4b8c0" />
<text x="86.5" y="796.5" font-size="12" fill="#2b2f45" font-family="'Liberation Sans', Arial, sans-serif" text-anchor="end" font-weight="normal" >0.13</text>
<line x1="91" y1="818.5" x2="917" y2="818.5" stroke="#e4e7ed" stroke-width="1" stroke-dasharray="1 2" shape-rendering="crispEdges"/>
<rect x="87" y="818" width="3" height="1" fill="#b4b8c0" />
<text x="86.5" y="821.5" font-size="12" fill="#2b2f45" font-family="'Liberation Sans', Arial, sans-serif" text-anchor="end" font-weight="normal" >-0.31</text>
<line x1="91" y1="842.5" x2="917" y2="842.5" stroke="#e4e7ed" stroke-width="1" stroke-dasharray="1 2" shape-rendering="crispEdges"/>
<rect x="87" y="842" width="3" height="1" fill="#b4b8c0" />
<text x="86.5" y="845.5" font-size="12" fill="#2b2f45" font-family="'Liberation Sans', Arial, sans-serif" text-anchor="end" font-weight="normal" >-0.75</text>
<line x1="91" y1="867.5" x2="917" y2="867.5" stroke="#e4e7ed" stroke-width="1" stroke-dasharray="1 2" shape-rendering="crispEdges"/>
<rect x="87" y="867" width="3" height="1" fill="#b4b8c0" />
<text x="86.5" y="870.5" font-size="12" fill="#2b2f45" font-family="'Liberation Sans', Arial, sans-serif" text-anchor="end" font-weight="normal" >-1.20</text>
<line x1="91" y1="892.5" x2="917" y2="892.5" stroke="#e4e7ed" stroke-width="1" stroke-dasharray="1 2" shape-rendering="crispEdges"/>
<rect x="87" y="892" width="3" height="1" fill="#b4b8c0" />
<text x="86.5" y="895.5" font-size="12" fill="#2b2f45" font-family="'Liberation Sans', Arial, sans-serif" text-anchor="end" font-weight="normal" >-1.64</text>
<rect x="89" y="723" width="1" height="1" fill="#b9bec8" />
<rect x="89" y="728" width="1" height="1" fill="#b9bec8" />
<rect x="89" y="733" width="1" height="1" fill="#b9bec8" />
<rect x="89" y="738" width="1" height="1" fill="#b9bec8" />
<rect x="89" y="743" width="1" height="1" fill="#b9bec8" />
<rect x="89" y="748" width="1" height="1" fill="#b9bec8" />
<rect x="89" y="753" width="1" height="1" fill="#b9bec8" />
<rect x="89" y="758" width="1" height="1" fill="#b9bec8" />
<rect x="89" y="763" width="1" height="1" fill="#b9bec8" />
<rect x="89" y="768" width="1" height="1" fill="#b9bec8" />
<rect x="89" y="773" width="1" height="1" fill="#b9bec8" />
<rect x="89" y="778" width="1" height="1" fill="#b9bec8" />
<rect x="89" y="783" width="1" height="1" fill="#b9bec8" />
<rect x="89" y="788" width="1" height="1" fill="#b9bec8" />
<rect x="89" y="793" width="1" height="1" fill="#b9bec8" />
<rect x="89" y="798" width="1" height="1" fill="#b9bec8" />
<rect x="89" y="803" width="1" height="1" fill="#b9bec8" />
<rect x="89" y="808" width="1" height="1" fill="#b9bec8" />
<rect x="89" y="813" width="1" height="1" fill="#b9bec8" />
<rect x="89" y="818" width="1" height="1" fill="#b9bec8" />
<rect x="89" y="823" width="1" height="1" fill="#b9bec8" />
<rect x="89" y="828" width="1" height="1" fill="#b9bec8" />
<rect x="89" y="833" width="1" height="1" fill="#b9bec8" />
<rect x="89" y="837" width="1" height="1" fill="#b9bec8" />
<rect x="89" y="842" width="1" height="1" fill="#b9bec8" />
<rect x="89" y="847" width="1" height="1" fill="#b9bec8" />
<rect x="89" y="852" width="1" height="1" fill="#b9bec8" />
<rect x="89" y="857" width="1" height="1" fill="#b9bec8" />
<rect x="89" y="862" width="1" height="1" fill="#b9bec8" />
<rect x="89" y="867" width="1" height="1" fill="#b9bec8" />
<rect x="89" y="872" width="1" height="1" fill="#b9bec8" />
<rect x="89" y="877" width="1" height="1" fill="#b9bec8" />
<rect x="89" y="882" width="1" height="1" fill="#b9bec8" />
<rect x="89" y="887" width="1" height="1" fill="#b9bec8" />
<rect x="89" y="892" width="1" height="1" fill="#b9bec8" />
<rect x="89" y="897" width="1" height="1" fill="#b9bec8" />
<rect x="89" y="902" width="1" height="1" fill="#b9bec8" />
<rect x="89" y="907" width="1" height="1" fill="#b9bec8" />
<rect x="89" y="912" width="1" height="1" fill="#b9bec8" />
<g shape-rendering="crispEdges">
<rect x="94" y="801" width="1" height="50" fill="#5fa65a" />
<rect x="101" y="801" width="1" height="39" fill="#5fa65a" />
<rect x="108" y="801" width="1" height="40" fill="#5fa65a" />
<rect x="115" y="801" width="1" height="34" fill="#5fa65a" />
<rect x="122" y="801" width="1" height="39" fill="#5fa65a" />
<rect x="129" y="801" width="1" height="41" fill="#5fa65a" />
<rect x="136" y="801" width="1" height="35" fill="#5fa65a" />
<rect x="143" y="801" width="1" height="17" fill="#5fa65a" />
<rect x="150" y="800" width="1" height="2" fill="#d9403a" />
<rect x="157" y="801" width="1" height="3" fill="#5fa65a" />
<rect x="164" y="801" width="1" height="2" fill="#5fa65a" />
<rect x="171" y="801" width="1" height="7" fill="#5fa65a" />
<rect x="178" y="801" width="1" height="2" fill="#5fa65a" />
<rect x="185" y="795" width="1" height="7" fill="#d9403a" />
<rect x="192" y="788" width="1" height="14" fill="#d9403a" />
<rect x="199" y="782" width="1" height="20" fill="#d9403a" />
<rect x="206" y="796" width="1" height="6" fill="#d9403a" />
<rect x="213" y="798" width="1" height="4" fill="#d9403a" />
<rect x="220" y="801" width="1" height="11" fill="#5fa65a" />
<rect x="227" y="801" width="1" height="18" fill="#5fa65a" />
<rect x="234" y="801" width="1" height="10" fill="#5fa65a" />
<rect x="241" y="801" width="1" height="5" fill="#5fa65a" />
<rect x="248" y="801" width="1" height="12" fill="#5fa65a" />
<rect x="255" y="801" width="1" height="16" fill="#5fa65a" />
<rect x="262" y="801" width="1" height="27" fill="#5fa65a" />
<rect x="269" y="801" width="1" height="30" fill="#5fa65a" />
<rect x="276" y="801" width="1" height="22" fill="#5fa65a" />
<rect x="283" y="801" width="1" height="22" fill="#5fa65a" />
<rect x="290" y="801" width="1" height="13" fill="#5fa65a" />
<rect x="297" y="797" width="1" height="5" fill="#d9403a" />
<rect x="304" y="794" width="1" height="8" fill="#d9403a" />
<rect x="311" y="788" width="1" height="14" fill="#d9403a" />
<rect x="318" y="782" width="1" height="20" fill="#d9403a" />
<rect x="325" y="785" width="1" height="17" fill="#d9403a" />
<rect x="332" y="783" width="1" height="19" fill="#d9403a" />
<rect x="339" y="773" width="1" height="29" fill="#d9403a" />
<rect x="346" y="770" width="1" height="32" fill="#d9403a" />
<rect x="353" y="763" width="1" height="39" fill="#d9403a" />
<rect x="360" y="762" width="1" height="40" fill="#d9403a" />
<rect x="367" y="759" width="1" height="43" fill="#d9403a" />
<rect x="374" y="761" width="1" height="41" fill="#d9403a" />
<rect x="381" y="772" width="1" height="30" fill="#d9403a" />
<rect x="388" y="764" width="1" height="38" fill="#d9403a" />
<rect x="395" y="765" width="1" height="37" fill="#d9403a" />
<rect x="402" y="772" width="1" height="30" fill="#d9403a" />
<rect x="409" y="801" width="1" height="9" fill="#5fa65a" />
<rect x="416" y="801" width="1" height="59" fill="#5fa65a" />
<rect x="423" y="801" width="1" height="90" fill="#5fa65a" />
<rect x="430" y="801" width="1" height="116" fill="#5fa65a" />
<rect x="437" y="801" width="1" height="89" fill="#5fa65a" />
<rect x="444" y="801" width="1" height="81" fill="#5fa65a" />
<rect x="451" y="801" width="1" height="59" fill="#5fa65a" />
<rect x="458" y="801" width="1" height="39" fill="#5fa65a" />
<rect x="465" y="801" width="1" height="22" fill="#5fa65a" />
<rect x="472" y="801" width="1" height="5" fill="#5fa65a" />
<rect x="479" y="780" width="1" height="22" fill="#d9403a" />
<rect x="486" y="774" width="1" height="28" fill="#d9403a" />
<rect x="493" y="764" width="1" height="38" fill="#d9403a" />
<rect x="500" y="769" width="1" height="33" fill="#d9403a" />
<rect x="507" y="769" width="1" height="33" fill="#d9403a" />
<rect x="514" y="767" width="1" height="35" fill="#d9403a" />
<rect x="521" y="777" width="1" height="25" fill="#d9403a" />
<rect x="528" y="795" width="1" height="7" fill="#d9403a" />
<rect x="535" y="801" width="1" height="17" fill="#5fa65a" />
<rect x="542" y="801" width="1" height="21" fill="#5fa65a" />
<rect x="549" y="801" width="1" height="23" fill="#5fa65a" />
<rect x="556" y="801" width="1" height="29" fill="#5fa65a" />
<rect x="563" y="801" width="1" height="14" fill="#5fa65a" />
<rect x="570" y="801" width="1" height="11" fill="#5fa65a" />
<rect x="577" y="790" width="1" height="12" fill="#d9403a" />
<rect x="584" y="769" width="1" height="33" fill="#d9403a" />
<rect x="591" y="755" width="1" height="47" fill="#d9403a" />
<rect x="598" y="738" width="1" height="64" fill="#d9403a" />
<rect x="605" y="739" width="1" height="63" fill="#d9403a" />
<rect x="612" y="753" width="1" height="49" fill="#d9403a" />
<rect x="619" y="763" width="1" height="39" fill="#d9403a" />
<rect x="626" y="770" width="1" height="32" fill="#d9403a" />
<rect x="633" y="775" width="1" height="27" fill="#d9403a" />
<rect x="640" y="787" width="1" height="15" fill="#d9403a" />
<rect x="647" y="798" width="1" height="4" fill="#d9403a" />
<rect x="654" y="799" width="1" height="3" fill="#d9403a" />
<rect x="661" y="800" width="1" height="2" fill="#d9403a" />
<rect x="668" y="801" width="1" height="5" fill="#5fa65a" />
<rect x="675" y="801" width="1" height="2" fill="#5fa65a" />
<rect x="682" y="801" width="1" height="7" fill="#5fa65a" />
<rect x="689" y="801" width="1" height="9" fill="#5fa65a" />
<rect x="696" y="795" width="1" height="7" fill="#d9403a" />
<rect x="703" y="785" width="1" height="17" fill="#d9403a" />
<rect x="710" y="786" width="1" height="16" fill="#d9403a" />
<rect x="717" y="785" width="1" height="17" fill="#d9403a" />
<rect x="724" y="786" width="1" height="16" fill="#d9403a" />
</g>
<polyline points="94.6,793.2 108.6,801.9 122.5,810.6 129.5,817.6 137.4,822.0 144.3,823.4 163.5,824.2 185.3,824.2 198.4,820.6 207.2,819.0 215.9,819.3 228.1,822.3 240.0,824.2 254.0,826.8 271.4,835.2 288.9,840.7 297.6,840.4 311.6,838.1 322.0,833.8 334.2,830.3 346.5,824.7 358.7,815.4 372.6,805.5 383.1,800.3 393.6,792.8 403.7,787.3 410.7,789.0 422.9,805.6 436.9,830.0 450.8,849.2 464.8,857.1 475.3,856.6 491.0,847.5 506.7,840.5 520.7,831.8 529.4,831.4 543.3,835.6 555.0,840.5 559.8,842.3 573.5,843.9 583.3,840.0 597.1,829.1 610.8,814.4 622.6,806.2 634.4,800.3 646.2,798.3 661.9,797.7 675.6,798.7 689.3,800.3 697.2,798.7 711.0,795.2 724.7,791.8" stroke="#1010a0" stroke-width="1" fill="none" shape-rendering="crispEdges"/>
<polyline points="94.6,818.5 101.6,817.2 108.6,822.0 115.5,824.2 122.5,830.7 129.5,836.4 136.5,838.5 143.5,831.6 150.4,822.5 157.4,825.4 164.4,824.9 171.4,827.2 178.4,825.4 185.3,822.0 192.3,815.8 199.3,810.6 206.3,815.8 213.3,817.6 220.2,825.4 227.2,831.2 234.2,828.1 241.2,826.3 255.7,833.8 262.7,842.5 269.7,848.1 276.6,847.4 283.6,849.1 291.5,844.2 295.8,838.1 304.6,835.9 318.5,826.8 325.5,825.4 332.5,821.9 337.7,816.3 346.5,809.3 353.4,801.5 360.4,796.2 367.4,788.0 374.4,784.9 381.4,786.3 388.3,777.1 397.0,773.6 402.5,773.0 409.5,789.9 416.5,821.3 423.4,850.1 430.4,879.3 437.4,876.3 444.4,882.0 451.4,878.9 458.4,874.2 465.3,868.4 472.3,859.4 479.6,844.4 486.6,838.8 493.6,828.6 500.6,826.9 507.6,823.4 514.5,818.7 521.5,819.6 528.5,828.3 535.5,841.4 542.5,845.0 549.5,849.2 556.4,855.2 563.5,850.1 570.6,850.1 577.4,834.0 584.3,820.3 591.4,808.1 598.5,793.8 605.3,787.5 612.4,788.5 619.5,788.5 626.5,787.3 633.6,787.5 640.5,789.9 647.5,796.7 654.6,796.7 661.5,797.7 668.5,800.3 675.6,798.3 682.7,801.1 689.5,804.2 696.6,795.8 703.7,789.3 710.5,787.9 717.6,785.4 724.7,784.0" stroke="#000000" stroke-width="1" fill="none" shape-rendering="crispEdges"/>
<rect x="20" y="917" width="897" height="1" fill="#e0e5ec" />
<rect x="102" y="934" width="330" height="1" fill="#e6eaef" />
<rect x="20" y="917" width="1" height="20" fill="#d4d9e1" />
<rect x="89" y="917" width="1" height="20" fill="#d4d9e1" />
<text x="34.5" y="932.6" font-size="12.5" fill="#ff7a14" font-family="'Liberation Sans', 'Noto Sans CJK SC', 'WenQuanYi Zen Hei', sans-serif" text-anchor="start" font-weight="bold" >日线</text>
<path d="M64.6,931.8 L68.7,924.2 L72.8,931.8 Z" fill="#ff7a14"/>
<rect x="108" y="917" width="1" height="6" fill="#c6ccd6" />
<text x="110" y="930" font-size="12" fill="#1e2235" font-family="'Liberation Sans', Arial, sans-serif" text-anchor="start" font-weight="bold" textLength="45" lengthAdjust="spacingAndGlyphs">2025/02</text>
<rect x="248" y="917" width="1" height="6" fill="#c6ccd6" />
<text x="250" y="930" font-size="12" fill="#1e2235" font-family="'Liberation Sans', Arial, sans-serif" text-anchor="start" font-weight="bold" textLength="45" lengthAdjust="spacingAndGlyphs">2025/03</text>
<rect x="395" y="917" width="1" height="6" fill="#c6ccd6" />
<text x="397" y="930" font-size="12" fill="#1e2235" font-family="'Liberation Sans', Arial, sans-serif" text-anchor="start" font-weight="bold" textLength="45" lengthAdjust="spacingAndGlyphs">2025/04</text>
<rect x="542" y="917" width="1" height="6" fill="#c6ccd6" />
<text x="544" y="930" font-size="12" fill="#1e2235" font-family="'Liberation Sans', Arial, sans-serif" text-anchor="start" font-weight="bold" textLength="45" lengthAdjust="spacingAndGlyphs">2025/05</text>
<rect x="696" y="917" width="1" height="6" fill="#c6ccd6" />
<text x="698" y="930" font-size="12" fill="#1e2235" font-family="'Liberation Sans', Arial, sans-serif" text-anchor="start" font-weight="bold" textLength="45" lengthAdjust="spacingAndGlyphs">2025/06</text>
<rect x="20" y="937" width="897" height="1" fill="#c9ced7" />
<rect x="20" y="938" width="39" height="14" fill="#ff6600" />
<rect x="59" y="938" width="1" height="14" fill="#ccd1da" />
<text x="40.0" y="949.7" font-size="12" fill="#ffffff" font-family="'Liberation Sans', 'Noto Sans CJK SC', 'WenQuanYi Zen Hei', sans-serif" text-anchor="middle" font-weight="normal" >指标</text>
<rect x="99" y="938" width="1" height="14" fill="#ccd1da" />
<text x="79.5" y="949.7" font-size="12" fill="#1e2230" font-family="'Liberation Sans', 'Noto Sans CJK SC', 'WenQuanYi Zen Hei', sans-serif" text-anchor="middle" font-weight="normal" >模板</text>
<rect x="157" y="938" width="1" height="14" fill="#ccd1da" />
<text x="108" y="949.3" font-size="12" fill="#ff7a14" font-family="'Liberation Serif', 'Noto Serif CJK SC', serif" text-anchor="start" font-weight="normal" textLength="18" lengthAdjust="spacingAndGlyphs">VIP</text>
<text x="126" y="949.7" font-size="12" fill="#ff7a14" font-family="'Liberation Sans', 'Noto Sans CJK SC', 'WenQuanYi Zen Hei', sans-serif" text-anchor="start" font-weight="normal" >指标</text>
<rect x="185" y="938" width="1" height="14" fill="#ccd1da" />
<text x="171.5" y="949.3" font-size="12" fill="#1e2230" font-family="'Liberation Serif', 'Noto Serif CJK SC', serif" text-anchor="middle" font-weight="normal" textLength="12" lengthAdjust="spacingAndGlyphs">MA</text>
<rect x="225" y="938" width="1" height="14" fill="#ccd1da" />
<text x="205.5" y="949.3" font-size="12" fill="#1e2230" font-family="'Liberation Serif', 'Noto Serif CJK SC', serif" text-anchor="middle" font-weight="normal" textLength="24" lengthAdjust="spacingAndGlyphs">MACD</text>
<rect x="265" y="938" width="1" height="14" fill="#ccd1da" />
<text x="245.5" y="949.3" font-size="12" fill="#1e2230" font-family="'Liberation Serif', 'Noto Serif CJK SC', serif" text-anchor="middle" font-weight="normal" textLength="24" lengthAdjust="spacingAndGlyphs">BOLL</text>
<rect x="299" y="938" width="1" height="14" fill="#ccd1da" />
<text x="282.5" y="949.3" font-size="12" fill="#1e2230" font-family="'Liberation Serif', 'Noto Serif CJK SC', serif" text-anchor="middle" font-weight="normal" textLength="18" lengthAdjust="spacingAndGlyphs">VOL</text>
<rect x="339" y="938" width="1" height="14" fill="#ccd1da" />
<text x="319.5" y="949.3" font-size="12" fill="#1e2230" font-family="'Liberation Serif', 'Noto Serif CJK SC', serif" text-anchor="middle" font-weight="normal" textLength="24" lengthAdjust="spacingAndGlyphs">BIAS</text>
<rect x="373" y="938" width="1" height="14" fill="#ccd1da" />
<text x="356.5" y="949.3" font-size="12" fill="#1e2230" font-family="'Liberation Serif', 'Noto Serif CJK SC', serif" text-anchor="middle" font-weight="normal" textLength="18" lengthAdjust="spacingAndGlyphs">CCI</text>
<rect x="407" y="938" width="1" height="14" fill="#ccd1da" />
<text x="390.5" y="949.3" font-size="12" fill="#1e2230" font-family="'Liberation Serif', 'Noto Serif CJK SC', serif" text-anchor="middle" font-weight="normal" textLength="18" lengthAdjust="spacingAndGlyphs">KDJ</text>
<rect x="447" y="938" width="1" height="14" fill="#ccd1da" />
<text x="427.5" y="949.3" font-size="12" fill="#1e2230" font-family="'Liberation Serif', 'Noto Serif CJK SC', serif" text-anchor="middle" font-weight="normal" textLength="18" lengthAdjust="spacingAndGlyphs">LW&amp;</text>
<rect x="481" y="938" width="1" height="14" fill="#ccd1da" />
<text x="464.5" y="949.3" font-size="12" fill="#1e2230" font-family="'Liberation Serif', 'Noto Serif CJK SC', serif" text-anchor="middle" font-weight="normal" textLength="18" lengthAdjust="spacingAndGlyphs">RSI</text>
<rect x="509" y="938" width="1" height="14" fill="#ccd1da" />
<text x="495.5" y="949.3" font-size="12" fill="#1e2230" font-family="'Liberation Serif', 'Noto Serif CJK SC', serif" text-anchor="middle" font-weight="normal" textLength="12" lengthAdjust="spacingAndGlyphs">CR</text>
<rect x="543" y="938" width="1" height="14" fill="#ccd1da" />
<text x="526.5" y="949.3" font-size="12" fill="#1e2230" font-family="'Liberation Serif', 'Noto Serif CJK SC', serif" text-anchor="middle" font-weight="normal" textLength="18" lengthAdjust="spacingAndGlyphs">PSY</text>
<rect x="583" y="938" width="1" height="14" fill="#ccd1da" />
<text x="563.5" y="949.7" font-size="12" fill="#1e2230" font-family="'Liberation Sans', 'Noto Sans CJK SC', 'WenQuanYi Zen Hei', sans-serif" text-anchor="middle" font-weight="normal" >设置</text>
<rect x="583" y="938" width="1" height="14" fill="#ccd1da" />
<rect x="0" y="952" width="917" height="1" fill="#d3d9e2" />
<rect x="0" y="953" width="583" height="1" fill="#d3d9e2" />
<rect x="743" y="954" width="174" height="8" fill="#b7b7be" />
<path d="M821.5,961 L833,954.5 L844.7,961 Z" fill="#666668"/>
<rect x="0" y="962" width="917" height="1" fill="#dde2e8" />
<rect x="2" y="963" width="45" height="1" fill="#c6ccd6" />
<text x="788.6" y="939" font-size="30" font-family="'Liberation Sans', Arial, sans-serif" letter-spacing="2.2" fill="#b7927a">FX678</text>
<text x="787.6" y="938" font-size="30" font-family="'Liberation Sans', Arial, sans-serif" letter-spacing="2.2" fill="#dce8f6">FX678</text>
</svg>
</body></html>
